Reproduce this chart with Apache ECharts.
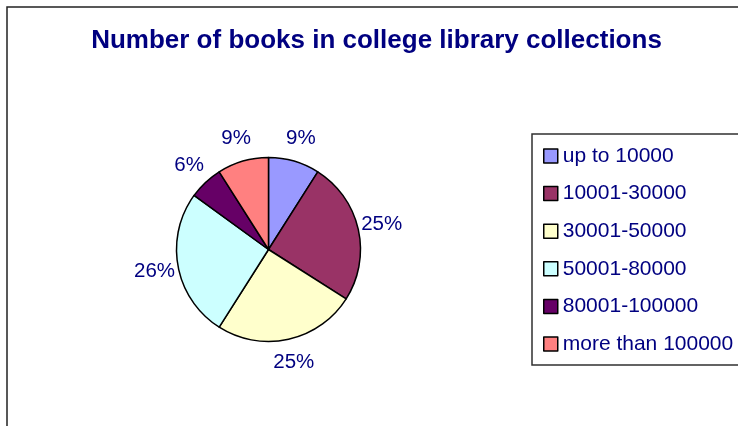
<!DOCTYPE html>
<html>
<head>
<meta charset="utf-8">
<style>
  html, body { margin: 0; padding: 0; background: #ffffff; }
  #chart { width: 738px; height: 426px; }
</style>
<script src="https://cdn.jsdelivr.net/npm/echarts@6/dist/echarts.min.js"></script>
</head>
<body>
<div id="chart"></div>
<script>
// Collection size bands and their share of libraries (%)
const categories = ['up to 10000', '10001-30000', '30001-50000', '50001-80000', '80001-100000', 'more than 100000'];
const shares = [9, 25, 25, 26, 6, 9];
const sliceColors = ['#9999FF', '#993366', '#FFFFCC', '#CCFFFF', '#660066', '#FF8080'];

const FONT = '"Liberation Sans", Arial, sans-serif';
const NAVY = '#000080';
const PIE_CX = 268.5, PIE_CY = 249.5, PIE_R = 92;
const LABEL_R = 116;

const total = shares.reduce((a, b) => a + b, 0);
const starts = [];
shares.reduce((acc, v, i) => { starts[i] = acc; return acc + v; }, 0);

const chart = echarts.init(document.getElementById('chart'), null, { renderer: 'canvas' });

chart.setOption({
  animation: false,
  backgroundColor: '#ffffff',
  title: {
    text: 'Number of books in college library collections',
    left: 371.5,
    top: 23,
    textAlign: 'center',
    textStyle: { fontFamily: FONT, fontSize: 26, fontWeight: 'bold', color: NAVY }
  },
  graphic: [
    // chart-area frame, open toward the right and bottom edges
    { type: 'rect', shape: { x: 7, y: 7, width: 800, height: 500 },
      style: { fill: 'none', stroke: '#222222', lineWidth: 1.5 }, z: -1 },
    // legend box
    { type: 'rect', shape: { x: 532, y: 134, width: 240, height: 231 },
      style: { fill: '#ffffff', stroke: '#303030', lineWidth: 1.5 }, z: 0 }
  ],
  legend: {
    orient: 'vertical',
    left: 538,
    top: 138.5,
    icon: 'rect',
    itemWidth: 14,
    itemHeight: 14,
    itemGap: 12.6,
    itemStyle: { borderColor: '#000000', borderWidth: 1.5 },
    textStyle: { fontFamily: FONT, fontSize: 21, color: NAVY, lineHeight: 22, padding: [0, 0, 3, 0] },
    data: categories,
    z: 5
  },
  series: [{
    type: 'pie',
    center: [PIE_CX, PIE_CY],
    radius: PIE_R,
    startAngle: 90,
    clockwise: true,
    avoidLabelOverlap: false,
    color: sliceColors,
    itemStyle: { borderColor: '#000000', borderWidth: 1.5 },
    emphasis: { disabled: true },
    label: {
      show: true,
      position: 'outside',
      formatter: p => p.value + '%',
      fontFamily: FONT,
      fontSize: 20.5,
      color: NAVY
    },
    labelLine: { show: false },
    labelLayout: function (p) {
      const i = p.dataIndex;
      const mid = (starts[i] + shares[i] / 2) / total * Math.PI * 2;
      return {
        x: PIE_CX + LABEL_R * Math.sin(mid),
        y: PIE_CY - LABEL_R * Math.cos(mid),
        align: 'center',
        verticalAlign: 'middle'
      };
    },
    data: categories.map((name, i) => ({ name, value: shares[i] }))
  }]
});
</script>
</body>
</html>
